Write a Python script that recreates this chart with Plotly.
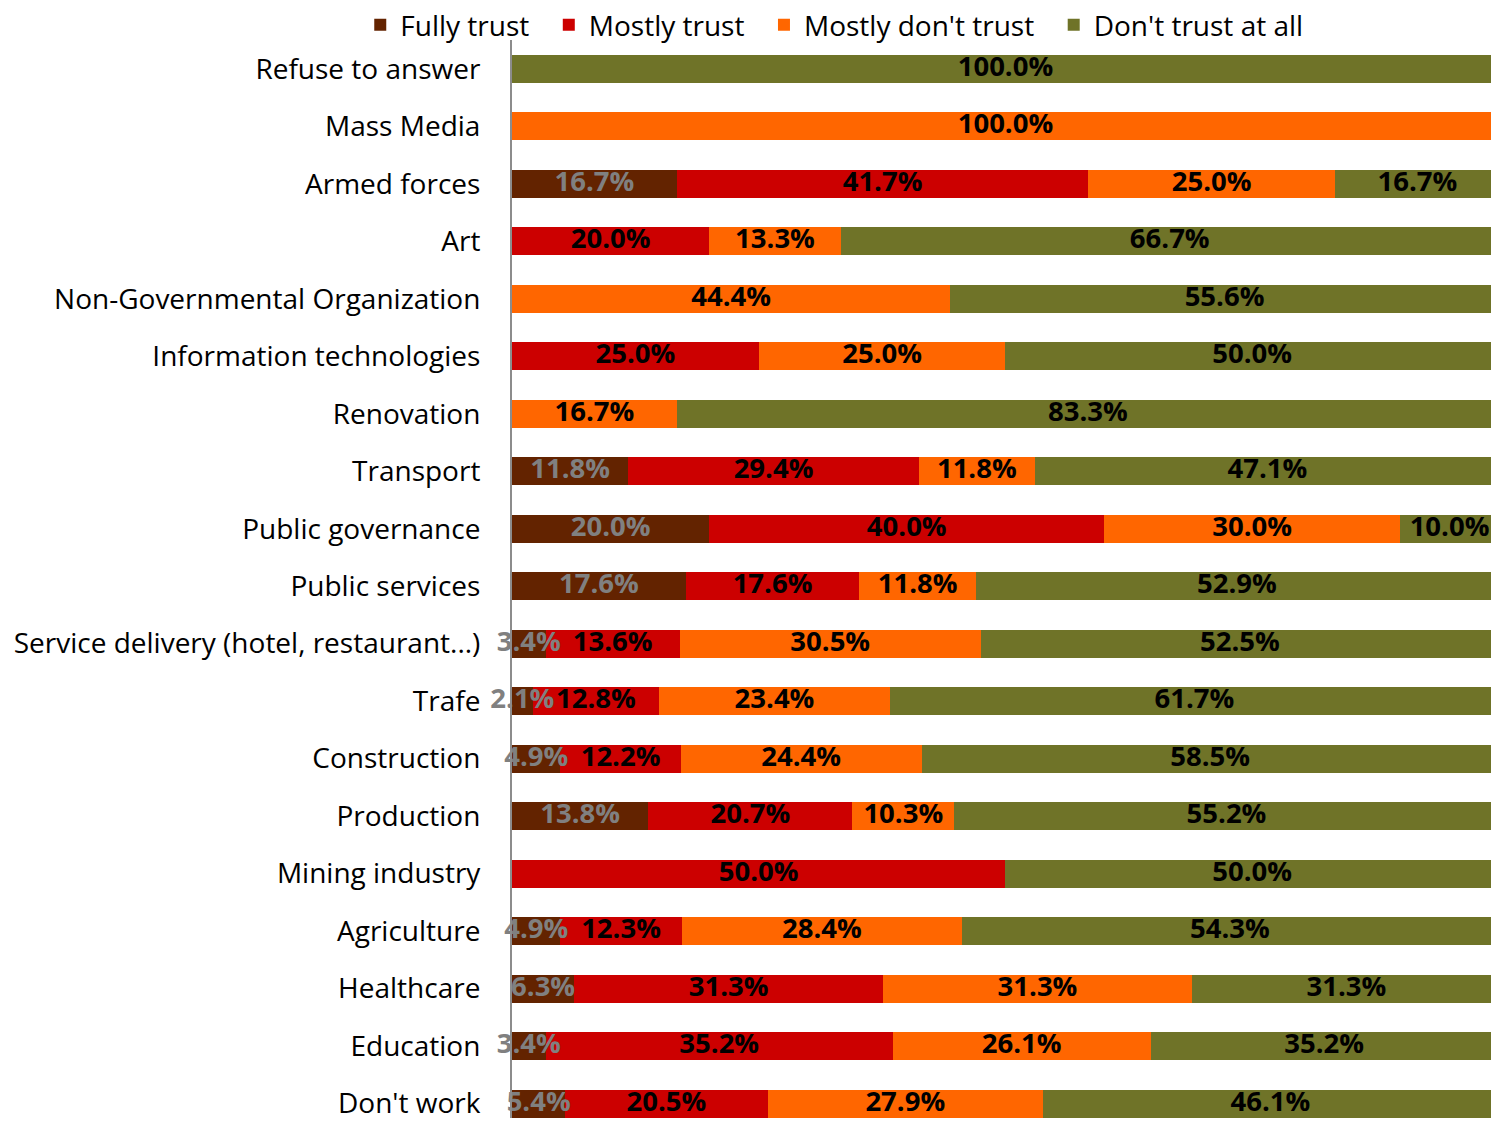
import plotly.graph_objects as go

# categories listed top to bottom
categories = ["Refuse to answer", "Mass Media", "Armed forces", "Art",
              "Non-Governmental Organization", "Information technologies",
              "Renovation", "Transport", "Public governance", "Public services",
              "Service delivery (hotel, restaurant...)", "Trafe", "Construction",
              "Production", "Mining industry", "Agriculture", "Healthcare",
              "Education", "Don't work"]

fully_trust = [0, 0, 16.7, 0, 0, 0, 0, 11.8, 20.0, 17.6, 3.4, 2.1, 4.9, 13.8, 0, 4.9, 6.3, 3.4, 5.4]
mostly_trust = [0, 0, 41.7, 20.0, 0, 25.0, 0, 29.4, 40.0, 17.6, 13.6, 12.8, 12.2, 20.7, 50.0, 12.3, 31.3, 35.2, 20.5]
mostly_dont = [0, 100.0, 25.0, 13.3, 44.4, 25.0, 16.7, 11.8, 30.0, 11.8, 30.5, 23.4, 24.4, 10.3, 0, 28.4, 31.3, 26.1, 27.9]
dont_trust = [100.0, 0, 16.7, 66.7, 55.6, 50.0, 83.3, 47.1, 10.0, 52.9, 52.5, 61.7, 58.5, 55.2, 50.0, 54.3, 31.3, 35.2, 46.1]

series = [
    ("Fully trust", fully_trust, "#632300", "#808080"),
    ("Mostly trust", mostly_trust, "#CC0000", "#000000"),
    ("Mostly don't trust", mostly_dont, "#FF6600", "#000000"),
    ("Don't trust at all", dont_trust, "#6F7328", "#000000"),
]

FONT = "Open Sans"
PAD = "\u00a0\u00a0"  # extra room between legend entries

fig = go.Figure()
base = [0.0] * len(categories)
for name, vals, col, tcol in series:
    fig.add_trace(go.Bar(
        y=categories, x=vals, name=name + PAD, orientation="h",
        marker=dict(color=col, line=dict(width=0)),
    ))
    # labels centred on each segment, allowed to spill over the segment edges
    mids = [b + v / 2 for b, v in zip(base, vals)]
    fig.add_trace(go.Scatter(
        y=categories, x=mids, mode="text", showlegend=False, hoverinfo="skip",
        text=["%.1f%%" % v if v > 0 else "" for v in vals],
        textposition="middle center", cliponaxis=False,
        textfont=dict(family=FONT, size=27.5, color=tcol, weight="bold"),
    ))
    base = [b + v for b, v in zip(base, vals)]

fig.update_layout(
    barmode="stack", bargap=0.51,
    width=1483, height=1110,
    margin=dict(l=504, r=0, t=32, b=0, autoexpand=False),
    plot_bgcolor="white", paper_bgcolor="white",
    font=dict(family=FONT, size=28, color="black"),
    showlegend=True,
    legend=dict(orientation="h", x=-0.155, xanchor="left",
                y=1.0139, yanchor="middle", font=dict(size=28), traceorder="normal",
                bgcolor="rgba(0,0,0,0)"),
    xaxis=dict(range=[0, 99.2], visible=False, showgrid=False),
    yaxis=dict(range=[18.25, -0.5], showline=True, linecolor="#8c8c8c", linewidth=2,
               ticks="", ticklabelstandoff=24, showgrid=False, zeroline=False,
               tickfont=dict(size=28)),
)

fig.write_html("out.html")
